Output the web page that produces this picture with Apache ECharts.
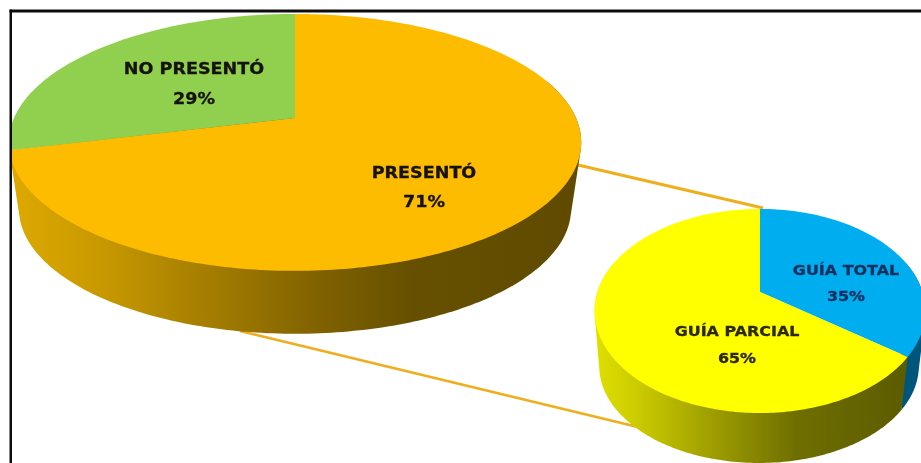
<!DOCTYPE html>
<html>
<head>
<meta charset="utf-8">
<style>html,body{margin:0;padding:0;background:#fff}#chart{width:921px;height:463px}</style>
<script src="https://cdn.jsdelivr.net/npm/echarts@6/dist/echarts.min.js"></script>
</head>
<body>
<div id="chart"></div>
<script>
// Submission split and the breakdown of those who submitted
const mainCategories = ['PRESENTÓ', 'NO PRESENTÓ'];
const mainValues = [71, 29];
const breakdownCategories = ['GUÍA TOTAL', 'GUÍA PARCIAL'];
const breakdownValues = [35, 65];

const mainColors = ['#FDBC00', '#91CF4F'];
const breakdownColors = ['#00AEEF', '#FFFF00'];

// Perspective disc: each angle on a unit circle is projected with depth factor c
const mainTop = { x0: 295, y0: 118, A: 123.8, c: -0.19, D: 281 };
const mainBottom = { x0: 295, y0: 185, A: 120.5, c: -0.19, D: 271 };
const subTop = { x0: 760, y0: 292, A: 98.5, c: -0.186, D: 162.5 };
const subBottom = { x0: 759, y0: 348, A: 93.6, c: -0.186, D: 157 };

const mainLabelPos = [[424, 174, 203], [194, 70, 100]];
const subLabelPos = [[846, 271, 297], [737, 332, 359]];
const labelInk = ['#15120a', '#15120a'];
const subLabelInk = ['#0F2F5E', '#2a2810'];

function project(disc, share) {
  const t = share * 2 * Math.PI;
  const u = Math.sin(t), v = -Math.cos(t);
  const d = 1 + disc.c * v;
  return [disc.x0 + disc.D * u / d, disc.y0 + disc.A * v / d];
}

function spans(values) {
  const total = values.reduce((a, b) => a + b, 0);
  let acc = 0;
  return values.map(val => {
    const s = acc / total;
    acc += val;
    return [s, acc / total];
  });
}

function arc(disc, from, to) {
  const pts = [];
  const n = Math.max(8, Math.ceil((to - from) * 360));
  for (let i = 0; i <= n; i++) pts.push(project(disc, from + (to - from) * i / n));
  return pts;
}

// Monotone-chain hull, so the wall's edge runs tangent from the upper rim to the lower one
function hull(points) {
  const p = points.slice().sort((a, b) => a[0] - b[0] || a[1] - b[1]);
  const cross = (o, a, b) => (a[0] - o[0]) * (b[1] - o[1]) - (a[1] - o[1]) * (b[0] - o[0]);
  const half = list => {
    const out = [];
    list.forEach(q => {
      while (out.length > 1 && cross(out[out.length - 2], out[out.length - 1], q) <= 0) out.pop();
      out.push(q);
    });
    out.pop();
    return out;
  };
  return half(p).concat(half(p.slice().reverse()));
}

function hGradient(x, x2, stops) {
  return {
    type: 'linear', x: x, y: 0, x2: x2, y2: 0, global: true,
    colorStops: stops.map(s => ({ offset: s[0], color: s[1] }))
  };
}

const mainSideFill = [
  hGradient(14, 582, [[0, '#DDA900'], [0.15, '#C89900'], [0.35, '#A37C00'], [0.54, '#7F6100'], [0.7, '#665000'], [1, '#5F4A00']]),
  null
];
const subSideFill = [
  '#00557A',
  hGradient(597, 905, [[0, '#DEDE00'], [0.12, '#CDCD00'], [0.35, '#A2A200'], [0.65, '#6E6E00'], [1, '#5C5C00']])
];

function sideSeries(cats, vals, top, bottom, fills, z) {
  const sp = spans(vals);
  return {
    type: 'custom', coordinateSystem: 'none', z: z, silent: true,
    data: cats.map((n, i) => ({ name: n, value: vals[i] })),
    renderItem: (params) => {
      const [s, e] = sp[params.dataIndex];
      // Only the near half of the rim can show
      const from = Math.max(s, 0.2), to = Math.min(e, 0.8);
      const fill = fills[params.dataIndex];
      if (to <= from || !fill) return { type: 'group', children: [] };
      const pts = hull(arc(top, from, to).concat(arc(bottom, from, to)));
      return { type: 'polygon', shape: { points: pts }, style: { fill: fill } };
    }
  };
}

function faceSeries(cats, vals, top, colors, pos, inks, font, scaleX, z) {
  const sp = spans(vals);
  return {
    type: 'custom', coordinateSystem: 'none', z: z, silent: true,
    data: cats.map((n, i) => ({ name: n, value: vals[i] })),
    renderItem: (params, api) => {
      const i = params.dataIndex;
      const [s, e] = sp[i];
      const pts = [[top.x0, top.y0]].concat(arc(top, s, e));
      const p = pos[i];
      const word = (text, y) => ({
        type: 'text', x: p[0], y: y, scaleX: scaleX, z2: 10,
        style: { text: text, font: font, fill: inks[i], stroke: inks[i], lineWidth: 0.3, align: 'center', verticalAlign: 'middle' }
      });
      return {
        type: 'group',
        children: [
          { type: 'polygon', shape: { points: pts }, style: { fill: colors[i] } },
          word(cats[i], p[1]),
          word(api.value(0) + '%', p[2])
        ]
      };
    }
  };
}

const chart = echarts.init(document.getElementById('chart'), null, { renderer: 'canvas' });
chart.setOption({
  animation: false,
  backgroundColor: '#ffffff',
  graphic: {
    elements: [
      { type: 'line', z: 0, shape: { x1: 578, y1: 165, x2: 763, y2: 208 }, style: { stroke: '#EFAE1E', lineWidth: 3 } },
      { type: 'line', z: 0, shape: { x1: 240, y1: 331, x2: 642, y2: 428 }, style: { stroke: '#EFAE1E', lineWidth: 2.8 } },
      { type: 'rect', z: 50, shape: { x: 0, y: 0, width: 10, height: 463 }, style: { fill: '#ffffff' } },
      { type: 'rect', z: 51, shape: { x: 9.5, y: 9.5, width: 911.5, height: 3 }, style: { fill: '#0c0c0c' } },
      { type: 'rect', z: 51, shape: { x: 9.5, y: 9.5, width: 2.5, height: 453.5 }, style: { fill: '#0c0c0c' } }
    ]
  },
  series: [
    sideSeries(mainCategories, mainValues, mainTop, mainBottom, mainSideFill, 2),
    faceSeries(mainCategories, mainValues, mainTop, mainColors, mainLabelPos, labelInk, 'bold 15px "DejaVu Sans"', 1.17, 3),
    sideSeries(breakdownCategories, breakdownValues, subTop, subBottom, subSideFill, 4),
    faceSeries(breakdownCategories, breakdownValues, subTop, breakdownColors, subLabelPos, subLabelInk, 'bold 13.5px "DejaVu Sans"', 1.18, 5)
  ]
});
</script>
</body>
</html>
